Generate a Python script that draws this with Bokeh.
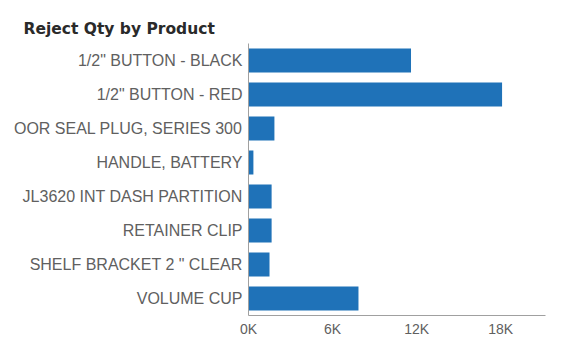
from bokeh.plotting import figure
from bokeh.models import FixedTicker, CustomJSTickFormatter, Range1d, ColumnDataSource
from bokeh.embed import file_html
from bokeh.resources import INLINE

products = ["1/2\" BUTTON - BLACK", "1/2\" BUTTON - RED", "OOR SEAL PLUG, SERIES 300",
            "HANDLE, BATTERY", "JL3620 INT DASH PARTITION", "RETAINER CLIP",
            "SHELF BRACKET 2 \" CLEAR", "VOLUME CUP"]
reject_qty = [11600, 18100, 1850, 350, 1650, 1650, 1500, 7850]
x_ticks = [0, 6000, 12000, 18000]

src = ColumnDataSource(data=dict(product=products, qty=reject_qty))

p = figure(width=564, height=340, y_range=list(reversed(products)),
           x_range=Range1d(0, 21200), output_backend="svg", toolbar_location=None,
           min_border_left=248, min_border_right=19, min_border_bottom=25, min_border_top=43)

p.hbar(y="product", right="qty", left=0, height=0.7, source=src,
       fill_color="#1f72b8", line_color=None)

p.title.text = "Reject Qty by Product"
p.title.text_font = "DejaVu Sans"
p.title.text_font_style = "bold"
p.title.text_font_size = "15.5px"
p.title.text_color = "#2a2a2a"
p.title.align = "left"
p.title.offset = -225
p.title.standoff = 12

p.xgrid.visible = False
p.ygrid.visible = False
p.outline_line_color = None

for ax in (p.xaxis, p.yaxis):
    ax.major_tick_line_color = None
    ax.minor_tick_line_color = None
    ax.major_tick_out = 0
    ax.major_tick_in = 0
    ax.axis_line_color = "#a0a0a0"
    ax.major_label_text_font = "Liberation Sans"
    ax.major_label_text_color = "#606060"

p.yaxis.major_label_text_font_size = "16px"
p.xaxis.major_label_text_font_size = "14px"
p.yaxis.major_label_standoff = 6
p.xaxis.major_label_standoff = 5
p.xaxis.ticker = FixedTicker(ticks=x_ticks)
p.xaxis.formatter = CustomJSTickFormatter(code="return (tick/1000).toFixed(0) + 'K';")
p.y_range.range_padding = 0

open("out.html", "w").write(file_html(p, INLINE))
